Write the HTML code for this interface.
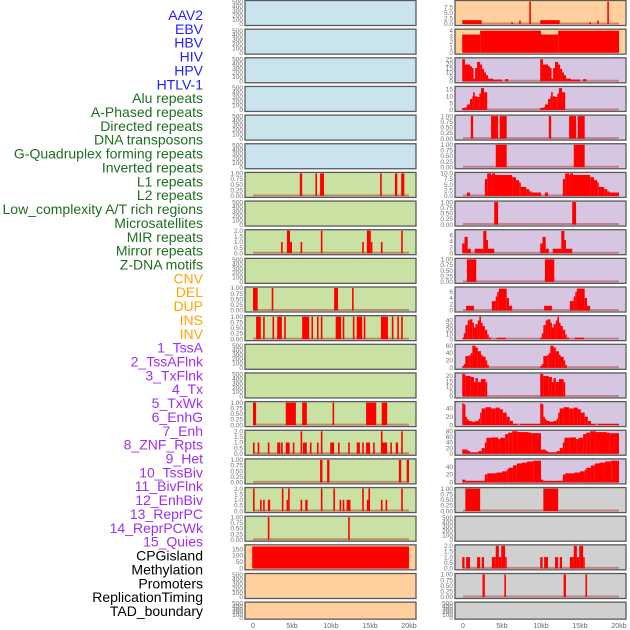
<!DOCTYPE html>
<html><head><meta charset="utf-8">
<style>
html,body{margin:0;padding:0;background:#fff;}
svg{display:block;font-family:"Liberation Sans",sans-serif;}
</style></head>
<body>
<svg id="chart" width="630" height="630" viewBox="0 0 630 630" xmlns="http://www.w3.org/2000/svg"></svg>
<script>
// ---------- data ----------
const trackLabels = ["AAV2","EBV","HBV","HIV","HPV","HTLV-1","Alu repeats","A-Phased repeats","Directed repeats","DNA transposons","G-Quadruplex forming repeats","Inverted repeats","L1 repeats","L2 repeats","Low_complexity A/T rich regions","Microsatellites","MIR repeats","Mirror repeats","Z-DNA motifs","CNV","DEL","DUP","INS","INV","1_TssA","2_TssAFlnk","3_TxFlnk","4_Tx","5_TxWk","6_EnhG","7_Enh","8_ZNF_Rpts","9_Het","10_TssBiv","11_BivFlnk","12_EnhBiv","13_ReprPC","14_ReprPCWk","15_Quies","CPGisland","Methylation","Promoters","ReplicationTiming","TAD_boundary"];
const labelGroups = ["virus","virus","virus","virus","virus","virus","rep","rep","rep","rep","rep","rep","rep","rep","rep","rep","rep","rep","rep","sv","sv","sv","sv","sv","chrom","chrom","chrom","chrom","chrom","chrom","chrom","chrom","chrom","chrom","chrom","chrom","chrom","chrom","chrom","other","other","other","other","other"];
const xTickLabels = ["0","5kb","10kb","15kb","20kb"];
const xTickValues = [0,5,10,15,20];

const T500 = ["0","100","200","300","400","500"], T1 = ["0.00","0.25","0.50","0.75","1.00"], T2 = ["0.0","0.5","1.0","1.5","2.0"];
const leftBg = ["b","b","b","b","b","b","g","g","g","g","g","g","g","g","g","g","g","g","g","p","p","p"];
const leftMax = [510,510,510,510,510,510,1,510,2,510,1,1,510,510,1,2,1,2,1,175,510,510];
const leftTicks = [T500,T500,T500,T500,T500,T500,T1,T500,T2,T500,T1,T1,T500,T500,T1,T2,T1,T2,T1,["0","50","100","150"],T500,T500];
const leftTickVals = leftTicks.map(t=>t.map(Number));
const leftBars = [
 [],[],[],[],[],[],
 [[6.0,6.3,1],[8.0,8.2,1],[8.6,9.1,1],[16.3,16.5,1],[18.2,18.5,1],[19.0,19.4,1]],
 [],
 [[3.6,3.8,1],[4.35,4.75,2],[4.75,5.0,1],[6.1,6.3,1],[8.7,8.9,2],[14.0,14.2,1],[14.6,15.1,2],[15.1,15.3,1],[16.4,16.6,1],[19.0,19.2,2]],
 [],
 [[0,0.6,1],[2.4,2.6,1],[10.4,10.9,1],[12.7,12.9,1]],
 [[0.4,1.0,1],[1.3,1.5,1],[2.5,2.7,1],[3.1,3.7,1],[4.0,4.2,1],[6.3,7.2,1],[7.5,7.7,1],[8.2,8.4,1],[8.7,8.9,1],[10.6,11.3,1],[11.5,11.7,1],[12.8,13.0,1],[13.3,14.0,1],[14.2,14.4,1],[16.4,17.3,1],[17.8,18.0,1],[18.5,18.7,1],[19.0,19.2,1]],
 [],[],
 [[0,0.4,1],[4.2,5.5,1],[6.3,6.9,1],[10.2,10.4,1],[14.5,15.8,1],[16.5,17.2,1]],
 [[0,0.2,1],[0.6,0.8,1],[1.9,2.1,1],[3.1,3.5,1],[3.6,3.8,1],[4.2,4.7,1],[5.1,5.3,1],[6.1,6.3,2],[6.4,6.9,1],[7.3,7.5,1],[8.2,8.4,1],[8.7,8.9,2],[9.9,10.4,1],[10.9,11.1,1],[12.2,12.4,1],[13.3,13.7,1],[14.0,14.2,1],[14.5,15.0,1],[15.4,15.6,1],[16.4,16.6,2],[16.6,17.2,1],[17.6,17.8,1],[18.3,18.6,1],[19.0,19.2,2]],
 [[8.6,8.9,1],[9.5,9.8,1],[18.7,19.0,1],[19.7,20.0,1]],
 [[0,0.2,2],[0.9,1.1,1],[1.3,1.5,1],[1.9,2.2,1],[3.7,3.9,2],[4.3,4.5,1],[4.5,4.7,2],[6.1,6.3,1],[6.7,7.0,1],[8.7,8.9,2],[10.3,10.5,2],[11.1,11.3,1],[11.5,11.7,1],[12.0,12.5,1],[14.0,14.2,2],[14.6,14.8,1],[14.8,15.0,2],[16.4,16.6,1],[17.0,17.2,1],[19.0,19.2,2]],
 [[1.9,2.1,1],[12.2,12.4,1]],
 [[-0.1,20.0,170]],
 [],[]
];

const rightBg = ["p","p","l","l","l","l","l","l","l","l","l","l","l","l","l","l","l","r","r","r","r","r"];
const rightMax = [10,4.1,25.5,16.5,1,1,10,1,7.6,1,7.2,48,61,22,54,80,57,1,510,2,1,510];
const rightTicks = [["0.0","2.5","5.0","7.5"],["0","1","2","3","4"],["0","5","10","15","20","25"],["0","5","10","15"],T1,T1,["0.0","2.5","5.0","7.5","10.0"],T1,["0","2","4","6"],T1,["0","2","4","6"],["0","10","20","30","40"],["0","20","40","60"],["0","5","10","15","20"],["0","20","40"],["0","20","40","60","80"],["0","20","40"],T1,T500,T2,T1,T500];
const rightTickVals = rightTicks.map(t=>t.map(Number));
const rightRepeat = [true,true,true,true,true,true,true,true,true,true,true,true,true,true,true,true,true,true,true,true,false,false];
const rightBars = [
 [[-0.1,2.4,1.7],[6.2,6.4,0.8],[7.2,7.4,1.5],[8.5,8.7,10]],
 [[-0.1,2.2,3.3],[2.2,10.0,4]],
 [[-0.1,0.25,25],[0.25,0.9,19],[0.9,1.15,17],[1.15,1.3,15],[1.3,1.55,3],[1.55,1.8,15],[1.8,2.2,22],[2.2,2.45,19],[2.45,2.7,14],[2.7,2.95,10],[2.95,3.2,7],[3.2,3.85,3],[3.85,5.0,2],[5.4,5.8,2.5]],
 [[-0.1,0.3,1.5],[0.3,0.5,2],[0.5,0.9,4],[0.9,1.2,8],[1.2,1.3,10],[1.3,1.5,13],[1.5,1.8,10],[1.8,2.1,9.5],[2.1,2.3,12],[2.3,2.7,16],[2.7,3.1,13]],
 [[1.0,1.3,1],[3.6,4.5,1],[4.7,5.6,1]],
 [[4.2,5.6,1]],
 [[0.5,0.9,1.5],[2.8,3.1,7.5],[3.1,3.6,10],[3.6,3.7,9.3],[3.7,4.1,10],[4.1,6.3,9.3],[6.3,6.8,8.3],[6.8,7.2,7],[7.2,7.4,6],[7.4,8.1,4],[8.1,8.5,3],[8.5,8.8,2],[8.8,10.0,1.5]],
 [[4.0,4.5,1]],
 [[-0.1,0.2,3.3],[0.2,0.6,5.5],[0.6,1.0,1.5],[1.5,2.6,1.5],[2.6,3.0,7.5],[3.0,3.2,4.5],[3.2,4.0,1.5]],
 [[0.5,1.7,1]],
 [[0.4,1.4,1.5],[3.7,4.2,3],[4.2,4.4,4.5],[4.4,4.6,6],[4.6,5.6,7],[5.6,5.9,4],[5.9,6.3,1.5]],
 [[-0.1,0.1,3],[0.1,0.3,12],[0.3,0.6,30],[0.6,0.8,40],[0.8,1.2,42],[1.2,1.4,35],[1.4,1.6,25],[1.6,1.9,32],[1.9,2.1,40],[2.1,2.3,48],[2.3,2.5,35],[2.5,2.8,28],[2.8,3.1,20],[3.1,3.3,10],[3.3,3.6,3],[4.3,5.5,3]],
 [[-0.1,0.1,5],[0.1,0.3,10],[0.3,0.8,32],[0.8,1.0,35],[1.0,1.2,40],[1.2,1.6,60],[1.6,1.9,55],[1.9,2.3,45],[2.3,2.5,35],[2.5,2.9,30],[2.9,3.1,20],[3.1,3.3,8]],
 [[-0.1,0.3,22],[0.3,1.0,20],[1.0,1.4,19],[1.4,1.6,14],[1.6,1.9,18],[1.9,2.3,14],[2.3,2.9,17],[2.9,3.1,14]],
 [[-0.1,0.1,52],[0.1,0.3,50],[0.3,0.5,20],[0.5,0.7,14],[0.7,1.1,10],[1.1,1.6,8],[1.6,2.0,10],[2.0,2.2,15],[2.2,2.4,30],[2.4,2.9,40],[2.9,3.6,43],[3.6,4.2,40],[4.2,4.7,42],[4.7,5.1,38],[5.1,5.6,30],[5.6,6.0,20],[6.0,6.4,10],[6.4,7.0,3],[7.3,10.0,3]],
 [[-0.1,0.6,15],[0.6,0.9,10],[0.9,2.0,5],[2.0,2.4,10],[2.4,2.8,20],[2.8,3.0,40],[3.0,3.7,57],[3.7,4.5,58],[4.5,4.8,52],[4.8,5.4,57],[5.4,5.8,70],[5.8,6.3,75],[6.3,7.0,80],[7.0,8.4,77],[8.4,8.8,75],[8.8,10.0,73]],
 [[-0.1,0.3,7],[0.3,2.8,4],[2.8,3.1,20],[3.1,4.3,23],[4.3,5.0,25],[5.0,5.6,28],[5.6,5.8,32],[5.8,6.4,37],[6.4,6.9,43],[6.9,7.5,48],[7.5,8.2,50],[8.2,9.0,53],[9.0,10.0,55]],
 [[0.3,2.2,1]],
 [],
 [[-0.1,0.2,1],[0.4,0.9,1],[1.8,2.2,1],[2.4,2.7,1],[3.7,4.2,1],[4.2,4.6,2],[4.6,4.9,1],[4.9,5.4,2],[5.4,5.6,1]],
 [[2.5,2.8,1],[5.3,5.5,1],[12.9,13.2,1],[15.7,15.9,1]],
 []
];

// ---------- drawing ----------
const NS = "http://www.w3.org/2000/svg";
const svg = document.getElementById("chart");
const bgColors = {b:"#c9e4ec", g:"#c9e1a3", p:"#ffd09e", l:"#d6c6e2", r:"#d0d0d0"};
const labelColors = {virus:"#1f1fff", rep:"#1e6e1e", sv:"#ffa500", chrom:"#a02ef0", other:"#000"};
const PX_PER_KB = 7.8;
const leftX0 = 253, rightX0 = 463;
const xLeft = kb => leftX0 + PX_PER_KB*kb;
const xRight = kb => rightX0 + PX_PER_KB*kb;
const panelTop = i => 0.5 + 28.65*i;
const panelH = i => (i === 21 ? 17 : 25);

function mk(tag, attrs, parent){
  const e = document.createElementNS(NS, tag);
  for (const k in attrs) e.setAttribute(k, attrs[k]);
  (parent||svg).appendChild(e);
  return e;
}

trackLabels.forEach((t,i)=>{
  const el = mk("text",{x:203, y:15+13.86*i+5, "text-anchor":"end", "font-size":"14", fill:labelColors[labelGroups[i]]});
  el.textContent = t;
  
  
});

function drawPanel(i, side){
  const isLeft = side === "left";
  const px0 = isLeft ? 245 : 455, pw = 171;
  const top = panelTop(i), h = panelH(i);
  const max = isLeft ? leftMax[i] : rightMax[i];
  const ticks = isLeft ? leftTicks[i] : rightTicks[i];
  const tickVals = isLeft ? leftTickVals[i] : rightTickVals[i];
  const bars = isLeft ? leftBars[i] : rightBars[i];
  const xs = isLeft ? xLeft : xRight;
  const yv = v => top + h - 1.5 - (v/max)*(h-2.5);

  const g = mk("g",{});
  
  
  const bg = mk("rect",{x:px0, y:top, width:pw, height:h, fill:bgColors[isLeft?leftBg[i]:rightBg[i]]}, g);
  
  

  ticks.forEach((t,k)=>{
    const tt = mk("text",{x:px0-2, y:yv(tickVals[k])+2.2, "text-anchor":"end", "font-size":"6.5", fill:"#707070"}, g);
    tt.textContent = t;
    
    
  });

  const segs = [];
  bars.forEach(b=>segs.push(b));
  if (!isLeft && rightRepeat[i]) bars.forEach(b=>segs.push([b[0]+10,b[1]+10,b[2]]));
  if (segs.length){
    const bl = mk("line",{x1:xs(0), x2:xs(20), y1:yv(0)-0.5, y2:yv(0)-0.5, stroke:"rgba(170,40,40,0.45)", "stroke-width":"2"}, g);
    
    
  }
  segs.forEach(b=>{
    const x1 = Math.max(px0+1, xs(b[0])), x2 = Math.min(px0+pw-1, xs(b[1]));
    const yt = Math.max(top+1, yv(b[2]));
    const r = mk("rect",{x:x1, y:yt, width:Math.max(1.6, x2-x1), height:yv(0)-yt, fill:"#ff0000"}, g);
    
    
  });

  const border = mk("rect",{x:px0, y:top, width:pw, height:h, fill:"none", stroke:"#5a5a5a", "stroke-width":"1.3"}, g);
  
  
}

for (let i=0;i<22;i++){ drawPanel(i,"left"); drawPanel(i,"right"); }

[["left",xLeft],["right",xRight]].forEach(([side,fx])=>{
  xTickValues.forEach((v,k)=>{
    const t = mk("text",{x:fx(v), y:628, "text-anchor":"middle", "font-size":"7", fill:"#666"});
    t.textContent = xTickLabels[k];
    
    
  });
});
</script>
</body></html>
